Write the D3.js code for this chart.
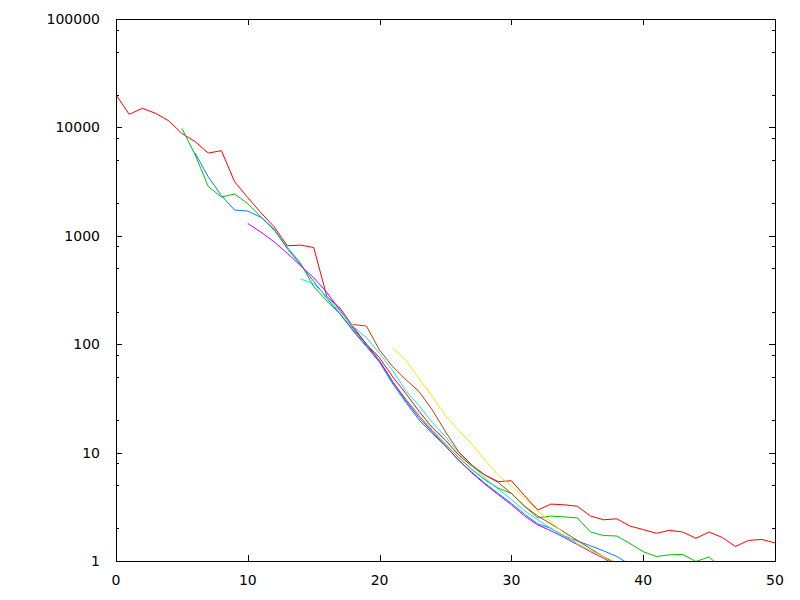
<!DOCTYPE html>
<html>
<head>
<meta charset="utf-8">
<script src="https://cdn.jsdelivr.net/npm/d3@7"></script>
<style>
html,body{margin:0;padding:0;background:#fff;}
svg{display:block;}
text{font-family:"DejaVu Sans",sans-serif;font-size:14px;fill:#000;}
</style>
</head>
<body>
<svg id="chart" width="800" height="600"></svg>
<script>
// ---- data ----
const xTicks = [0, 10, 20, 30, 40, 50];
const yTicks = [1, 10, 100, 1000, 10000, 100000];
const yTickLabels = ["1", "10", "100", "1000", "10000", "100000"];

const redStart = 0;
const redValues = [20000, 13200, 15000, 13500, 11500, 8800, 7400, 5800, 6100, 3150,
  2250, 1630, 1210, 810, 820, 780, 275, 215, 145, 100,
  75, 50, 35, 24, 17, 13, 9.5, 7.5, 6.2, 5.4,
  5.5, 4.0, 2.95, 3.35, 3.3, 3.2, 2.6, 2.4, 2.45, 2.1,
  1.95, 1.8, 1.92, 1.85, 1.62, 1.85, 1.65, 1.36, 1.55, 1.58, 1.47];

const greenStart = 5;
const greenValues = [9800, 5600, 2850, 2280, 2430, 1980, 1500, 1130, 780, 560,
  340, 250, 190, 135, 97, 70, 45, 31, 22, 16,
  12, 9, 7, 5.6, 4.7, 4.2, 3.2, 2.5, 2.6, 2.55,
  2.5, 1.85, 1.72, 1.70, 1.45, 1.22, 1.1, 1.14, 1.15, 0.99, 1.09, 0.85];

const blueStart = 6;
const blueValues = [5800, 3500, 2350, 1730, 1690, 1480, 1150, 760, 540, 380,
  265, 190, 132, 95, 68, 43, 29, 20, 15, 11.5,
  8.5, 6.6, 5.2, 4.2, 3.4, 2.7, 2.2, 2.0, 1.7, 1.53,
  1.38, 1.24, 1.1, 0.93];

const purpleStart = 10;
const purpleValues = [1300, 1080, 880, 690, 530, 410, 300, 205, 140, 100,
  70, 45, 30, 21, 15.5, 11.5, 8.5, 6.5, 5.1, 4.1,
  3.3, 2.6, 2.15, 1.9, 1.65, 1.42, 1.22, 1.06, 0.9];

const cyanStart = 14;
const cyanValues = [400, 360, 275, 200, 145, 115, 82, 57, 37, 27,
  19, 14, 10, 7.6, 5.8, 4.6, 3.7, 2.9, 2.4, 2.0,
  1.7, 1.45, 1.25, 1.1, 0.95];

const brownStart = 18;
const brownValues = [152, 147, 88, 62, 47, 36.5, 24.7, 15.6, 10.2, 7.7,
  6.2, 5.3, 4.2, 3.2, 2.6, 2.2, 1.85, 1.55, 1.3, 1.1, 0.92];

const yellowStart = 21;
const yellowValues = [92, 71, 48, 33, 22, 16, 12, 8.5, 6.2, 4.9,
  3.8, 2.9, 2.3, 1.8, 1.45, 1.25, 1.1, 0.97];

const seriesColors = ["#ff0000", "#00c000", "#0080ff", "#c000ff", "#00eeee", "#c04000", "#eeee00"];

(function () {
  const series = [
    [redStart, redValues], [greenStart, greenValues], [blueStart, blueValues],
    [purpleStart, purpleValues], [cyanStart, cyanValues], [brownStart, brownValues],
    [yellowStart, yellowValues]
  ].map(([s, vals], i) => ({color: seriesColors[i], pts: vals.map((v, j) => [s + j, v])}));

  const pL = 116, pR = 775, pT = 19, pB = 561;
  const svg = d3.select("#chart");
  const x = d3.scaleLinear().domain([0, 50]).range([pL, pR]);
  const y = d3.scaleLog().domain([1, 100000]).range([pB, pT]);

  svg.append("defs").append("clipPath").attr("id", "clip")
    .append("rect").attr("x", pL).attr("y", pT).attr("width", pR - pL).attr("height", pB - pT);

  // minor ticks at 2,5,8 per decade
  const minor = [];
  for (let d = 0; d < 5; d++) [2, 5, 8].forEach(m => minor.push(m * Math.pow(10, d)));

  const tickG = svg.append("g").attr("shape-rendering", "crispEdges").attr("stroke", "#000").attr("stroke-width", 1);
  yTicks.forEach(t => {
    const yy = Math.round(y(t)) + 0.5;
    tickG.append("line").attr("x1", pL).attr("x2", pL + 6).attr("y1", yy).attr("y2", yy);
    tickG.append("line").attr("x1", pR - 6).attr("x2", pR).attr("y1", yy).attr("y2", yy);
  });
  minor.forEach(t => {
    const yy = Math.round(y(t)) + 0.5;
    tickG.append("line").attr("x1", pL).attr("x2", pL + 3).attr("y1", yy).attr("y2", yy);
    tickG.append("line").attr("x1", pR - 3).attr("x2", pR).attr("y1", yy).attr("y2", yy);
  });
  xTicks.forEach(t => {
    const xx = Math.round(x(t)) + 0.5;
    tickG.append("line").attr("x1", xx).attr("x2", xx).attr("y1", pB).attr("y2", pB - 6);
    tickG.append("line").attr("x1", xx).attr("x2", xx).attr("y1", pT).attr("y2", pT + 6);
  });

  yTicks.forEach((t, i) => {
    svg.append("text").attr("x", 100).attr("y", y(t)).attr("dy", "0.36em")
      .attr("text-anchor", "end").text(yTickLabels[i]);
  });
  xTicks.forEach(t => {
    svg.append("text").attr("x", x(t)).attr("y", 585).attr("text-anchor", "middle").text(t);
  });

  const line = d3.line().x(d => x(d[0])).y(d => y(d[1]));
  const lg = svg.append("g").attr("clip-path", "url(#clip)");
  series.forEach(s => {
    lg.append("path").attr("d", line(s.pts)).attr("fill", "none")
      .attr("stroke", s.color).attr("stroke-width", 1);
  });

  svg.append("rect").attr("x", pL + 0.5).attr("y", pT + 0.5)
    .attr("width", pR - pL).attr("height", pB - pT)
    .attr("fill", "none").attr("stroke", "#000").attr("stroke-width", 1)
    .attr("shape-rendering", "crispEdges");
})();
</script>
</body>
</html>
